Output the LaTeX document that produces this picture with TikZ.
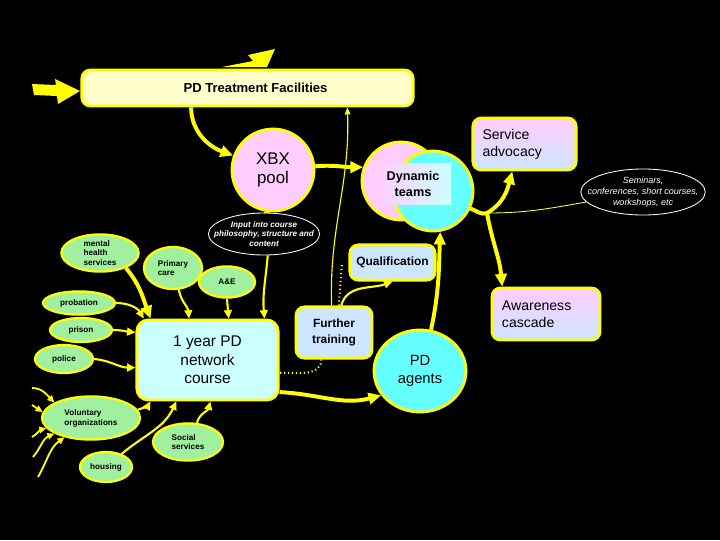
\documentclass[tikz,border=0pt]{standalone}
\usepackage{fontspec}
\setmainfont{Liberation Sans}
\usetikzlibrary{arrows.meta,shapes.geometric}
\definecolor{ptfill}{HTML}{FFFFCC}
\definecolor{pinkfill}{HTML}{FFCCFF}
\definecolor{cyanfill}{HTML}{66FFFF}
\definecolor{bluefill}{HTML}{CCE6FF}
\definecolor{coursefill}{HTML}{CCFFFF}
\definecolor{greenfill}{HTML}{A0F0A0}
\definecolor{linkyellow}{HTML}{FFFF00}

\tikzset{
  agency/.style={ellipse, draw=linkyellow, line width=1.6pt, fill=greenfill, inner sep=-3pt,
    align=left, font=\fontsize{5.8}{7}\selectfont\bfseries},
  note/.style={ellipse, draw=white, line width=0.6pt, fill=black, text=white, inner sep=-8pt, align=center},
  box/.style={rectangle, rounded corners=6pt, draw=linkyellow, line width=2pt, inner sep=0pt},
  bubble/.style={circle, draw=linkyellow, line width=2pt, inner sep=0pt, align=center},
  fade/.style={top color=pinkfill, bottom color=bluefill, middle color=pinkfill!50!bluefill},
  bigflow/.style={draw=linkyellow, line width=2.8pt, -{Triangle[length=9pt,width=8pt]}},
  flow/.style={draw=linkyellow, line width=1.5pt, -{Triangle[length=6pt,width=5.5pt]}},
  feed/.style={draw=linkyellow, line width=1.3pt, -{Triangle[length=5pt,width=4.5pt]}},
  thinflow/.style={draw=linkyellow, line width=0.8pt},
}

\begin{document}
\begin{tikzpicture}[x=0.025cm,y=0.025cm]
  \useasboundingbox (0,0) rectangle (720,-540);
  \fill[black] (0,0) rectangle (720,-540);

  %% block arrows at the top
  \fill[linkyellow] (32,-84) -- (56,-85) -- (55,-79) -- (80,-91) -- (58,-104) -- (57,-96) -- (34,-95) -- cycle;
  \fill[linkyellow] (222,-67) -- (267,-67) -- (275,-49) -- (248,-55) -- (253,-61) -- cycle;

  %% top row
  \node[box, fill=ptfill, minimum width=8.28cm, minimum height=0.9cm,
        font=\fontsize{9.3}{11}\selectfont\bfseries] (ptf) at (247.5,-88) {\hspace*{0.4cm}PD Treatment Facilities};
  \node[bubble, fill=pinkfill, minimum size=2.05cm, font=\fontsize{12}{14}\selectfont] (xbx) at (273,-170) {XBX\\pool};
  \node[bubble, fill=pinkfill, minimum size=1.95cm] (dynp) at (401,-181) {};
  \node[bubble, fill=cyanfill, minimum size=2cm] (dync) at (433,-191) {};
  \node[left color=pinkfill, right color=coursefill, minimum width=1.9cm, minimum height=1cm, inner sep=0pt,
        align=center, font=\fontsize{9}{11}\selectfont\bfseries] (dyn) at (413,-184) {Dynamic\\teams};
  \node[box, fade, minimum width=2.58cm, minimum height=1.3cm, text width=2.1cm, align=left,
        font=\fontsize{10}{12}\selectfont] (sadv) at (524.5,-144) {Service\\advocacy};
  \node[note, minimum width=2.88cm, minimum height=1.15cm,
        font=\fontsize{6.4}{7.8}\selectfont\itshape] (sem) at (643,-192) {Seminars,\\conferences, short courses,\\workshops, etc};
  \node[note, minimum width=2.78cm, minimum height=1.05cm,
        font=\fontsize{5.8}{7}\selectfont\bfseries\itshape] (inp) at (264,-234) {Input into course\\philosophy, structure and\\content};

  %% agencies
  \node[agency, minimum width=1.93cm, minimum height=0.93cm] (mhs) at (100,-253) {mental\\health\\services};
  \node[agency, minimum width=1.45cm, minimum height=1.05cm] (prim) at (173,-268) {Primary\\care};
  \node[agency, minimum width=1.4cm, minimum height=0.78cm] (ae) at (227,-282) {A\&E};
  \node[agency, minimum width=1.8cm, minimum height=0.58cm] (prob) at (79,-303) {probation};
  \node[agency, minimum width=1.55cm, minimum height=0.6cm] (pris) at (81,-330) {prison};
  \node[agency, minimum width=1.45cm, minimum height=0.7cm] (pol) at (64,-359) {police};
  \node[agency, minimum width=2.45cm, minimum height=1.08cm] (vol) at (91,-418) {Voluntary\\organizations};
  \node[agency, minimum width=1.3cm, minimum height=0.75cm] (hous) at (106,-467) {housing};
  \node[agency, minimum width=1.75cm, minimum height=0.93cm] (soc) at (188,-442) {Social\\services};

  %% course and outcomes
  \node[box, fill=coursefill, rounded corners=8pt, minimum width=3.53cm, minimum height=2cm, align=center,
        font=\fontsize{11}{13}\selectfont] (course) at (207.5,-360) {1 year PD\\network\\course};
  \node[box, fill=bluefill, minimum width=2.13cm, minimum height=0.88cm,
        font=\fontsize{8.5}{10}\selectfont\bfseries] (qual) at (392.5,-262.5) {Qualification};
  \node[box, fill=bluefill, minimum width=1.9cm, minimum height=1.28cm, align=center,
        font=\fontsize{8.5}{11}\selectfont\bfseries] (ftr) at (334,-332.5) {Further\\training};
  \node[ellipse, draw=linkyellow, line width=2pt, fill=cyanfill, minimum width=2.3cm, minimum height=2.05cm,
        inner sep=0pt, align=center, font=\fontsize{10.5}{13}\selectfont] (agents) at (420,-371) {PD\\agents};
  \node[box, fade, minimum width=2.7cm, minimum height=1.3cm, text width=2.2cm, align=left,
        font=\fontsize{10}{12}\selectfont] (awc) at (546,-314) {Awareness\\cascade};

  \coordinate (junc) at (487,-213);
  \coordinate (dots) at (342,-263);

  %% main flow
  \draw[bigflow] (ptf.199) to[out=-90,in=160] (xbx.160);
  \draw[bigflow] (xbx.5) to[out=5,in=180] (dynp.160);
  \draw[thinflow, -{Triangle[length=5pt,width=4pt]}] (ftr.95) to[out=92,in=-88] (ptf.349.5);
  \draw[thinflow, dotted, line width=1.5pt] (ftr.80) -- (dots);
  \draw[flow] (ftr.75) to[out=75,in=200] (qual.south);
  \draw[thinflow, dotted, line width=1.5pt] (ftr.245) to[out=-90,in=0] (course.350);
  \draw[bigflow] (course.336) to[out=-3,in=195] (agents.212);
  \draw[bigflow] (agents.75) to[out=78,in=-92] (dync.-80);
  \draw[bigflow, -] (dync.-25) to[out=-20,in=200] (junc);
  \draw[bigflow] (junc) to[out=30,in=-105] (sadv.246);
  \draw[bigflow] (junc) to[out=-80,in=95] (awc.148);
  \draw[linkyellow!70!white, line width=0.6pt] (junc) to[out=0,in=190] (sem.190);
  \draw[thinflow, line width=1pt] (xbx.265) -- (inp.90);
  \draw[flow] (inp.-80) to[out=-95,in=95] (course.36);

  %% into the course
  \draw[bigflow] (mhs.-30) to[out=-50,in=110] (course.144);
  \draw[flow] (prim.-75) to[out=-80,in=95] (course.114);
  \draw[flow] (ae.-90) -- (course.63);
  \draw[flow] (prob.0) to[out=0,in=120] (course.147);
  \draw[flow] (pris.0) to[out=0,in=175] (course.159);
  \draw[flow] (pol.0) to[out=-5,in=180] (course.186);
  \draw[flow] (vol.10) to[out=20,in=-120] (course.216);
  \draw[flow] (hous.40) to[out=40,in=-115] (course.233);
  \draw[flow] (soc.65) to[out=75,in=-105] (course.274);

  %% into the voluntary organizations
  \coordinate (va) at (32,-388);
  \coordinate (vb) at (32,-405);
  \coordinate (vc) at (32,-437);
  \coordinate (vd) at (33,-457);
  \coordinate (ve) at (38,-477);
  \draw[feed] (va) to[out=0,in=135] (vol.157);
  \draw[feed] (vb) -- (vol.173);
  \foreach \src/\ang/\bend in {vc/193/30, vd/203/50, ve/216/60}
    \draw[feed] (\src) to[out=\bend,in=\ang] (vol.\ang);
\end{tikzpicture}
\end{document}
